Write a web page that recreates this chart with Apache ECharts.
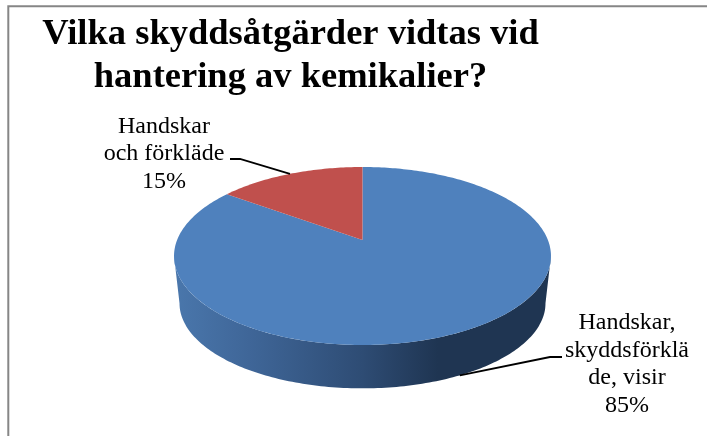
<!DOCTYPE html>
<html>
<head>
<meta charset="utf-8">
<style>html,body{margin:0;padding:0;background:#fff}#c{width:707px;height:436px}</style>
<script src="https://cdn.jsdelivr.net/npm/echarts@6/dist/echarts.min.js"></script>
</head>
<body>
<div id="c"></div>
<script>
var titleText = 'Vilka skyddsåtgärder vidtas vid\nhantering av kemikalier?';
var categories = ['Handskar,\nskyddsförklä\nde, visir', 'Handskar\noch förkläde'];
var values = [85, 15];
var sliceColors = ['#4f81bd', '#c0504d'];

var FONT = '"Liberation Serif","Times New Roman",serif';
var total = values.reduce(function (a, b) { return a + b; }, 0);

// Perspective disc: far half looks shorter, so the pie's true centre sits above the ellipse centre.
var K = 0.18;
var topDisc = { cx: 362.5, cy: 256, c: 185.4, a: 89, b: 16 };
var baseDisc = { cx: 362.5, cy: 303, c: 180, a: 85, b: 15 };
function project(d, deg) {
  var t = deg * Math.PI / 180, u = Math.sin(t), v = Math.cos(t), w = 1 + K * v;
  return [d.cx + d.c * u / w, d.cy - (d.a * v + d.b) / w];
}
var centerOf = function (d) { return [d.cx, d.cy - d.b]; };
// Part of the rim that faces the viewer, in degrees clockwise from the top.
var FRONT_FROM = 100.4, FRONT_TO = 259.6;

var labelBoxes = [
  { x: 627, y: 364, leader: [[562, 357], [550, 357]], disc: baseDisc },
  { x: 164, y: 154, leader: [[230, 159], [240, 159]], disc: topDisc }
];

function arc(d, from, to) {
  var pts = [], n = Math.max(2, Math.ceil(Math.abs(to - from)));
  for (var i = 0; i <= n; i++) pts.push(project(d, from + (to - from) * i / n));
  return pts;
}
var starts = [], acc = 0;
values.forEach(function (v) { starts.push(acc); acc += v; });

function renderItem(params, api) {
  var i = params.dataIndex, val = api.value(1);
  var a0 = starts[i] / total * 360, a1 = (starts[i] + val) / total * 360;
  var color = sliceColors[i], kids = [];

  var w0 = Math.max(a0, FRONT_FROM), w1 = Math.min(a1, FRONT_TO);
  if (w1 > w0) {
    kids.push({
      type: 'polygon',
      shape: { points: arc(topDisc, w0, w1).concat(arc(baseDisc, w1, w0)) },
      style: {
        fill: {
          type: 'linear', x: 174, y: 0, x2: 551, y2: 0, global: true,
          colorStops: [
            { offset: 0, color: '#4a77ac' },
            { offset: 0.2, color: '#3f6698' },
            { offset: 0.5, color: '#2e4c74' },
            { offset: 0.7, color: '#1f3552' },
            { offset: 1, color: '#1f3552' }
          ]
        }
      }
    });
  }
  kids.push({
    type: 'polygon',
    shape: { points: [centerOf(topDisc)].concat(arc(topDisc, a0, a1)) },
    style: { fill: color }
  });

  var box = labelBoxes[i], mid = (a0 + a1) / 2;
  kids.push({
    type: 'polyline',
    shape: { points: box.leader.concat([project(box.disc, mid)]) },
    style: { stroke: '#000', lineWidth: 1.8, fill: null },
    z2: 5
  });
  kids.push({
    type: 'text',
    style: {
      x: box.x, y: box.y,
      text: api.value(0) + '\n' + Math.round(val / total * 100) + '%',
      font: '24px ' + FONT, fill: '#000', lineHeight: 27.5,
      align: 'center', verticalAlign: 'middle'
    },
    z2: 6
  });
  return { type: 'group', children: kids };
}

var chart = echarts.init(document.getElementById('c'), null, { renderer: 'canvas' });
chart.setOption({
  animation: false,
  backgroundColor: '#fff',
  title: {
    text: titleText, left: 285.5, top: 8, textAlign: 'center',
    textStyle: { fontFamily: FONT, fontWeight: 'bold', fontSize: 36.5, lineHeight: 43, color: '#000' }
  },
  graphic: [{
    type: 'polyline', silent: true,
    shape: { points: [[8.3, 436], [8.3, 6.3], [707, 6.3]] },
    style: { stroke: '#868686', lineWidth: 2, fill: null }
  }],
  series: [{
    type: 'custom',
    coordinateSystem: 'none',
    renderItem: renderItem,
    data: categories.map(function (c, i) { return [c, values[i]]; })
  }]
});
</script>
</body>
</html>
